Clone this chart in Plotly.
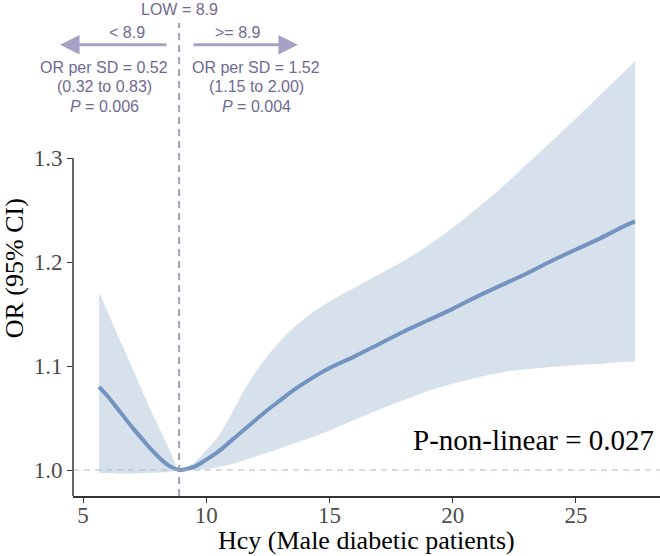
import plotly.graph_objects as go

# data
hcy = [5.65, 6.0, 6.5, 7.0, 7.5, 8.0, 8.5, 8.9, 9.0, 9.5, 10.0, 10.5, 11.0, 11.5,
       12.0, 12.5, 13.0, 13.5, 14.0, 15.0, 16.0, 17.0, 18.0, 19.0, 20.0, 21.0,
       22.0, 23.0, 24.0, 25.0, 26.0, 27.0, 27.4]
or_fit = [1.080, 1.071, 1.056, 1.041, 1.027, 1.014, 1.004, 1.000, 1.000, 1.003,
          1.010, 1.018, 1.028, 1.038, 1.048, 1.058, 1.067, 1.076, 1.084, 1.098,
          1.109, 1.121, 1.133, 1.144, 1.155, 1.167, 1.178, 1.189, 1.201, 1.212,
          1.223, 1.235, 1.239]
ci_low = [0.997, 0.9968, 0.9965, 0.9966, 0.997, 0.9973, 0.998, 1.000, 1.000, 1.000,
          1.001, 1.003, 1.0055, 1.009, 1.013, 1.0165, 1.021, 1.025, 1.029, 1.038,
          1.048, 1.058, 1.067, 1.076, 1.083, 1.089, 1.094, 1.097, 1.099, 1.101,
          1.102, 1.104, 1.104]
ci_high = [1.171, 1.152, 1.125, 1.098, 1.071, 1.045, 1.020, 1.000, 1.001, 1.007,
           1.019, 1.033, 1.053, 1.075, 1.094, 1.110, 1.124, 1.136, 1.146, 1.162,
           1.175, 1.188, 1.201, 1.216, 1.233, 1.252, 1.272, 1.294, 1.316, 1.338,
           1.361, 1.384, 1.393]

cutoff = 8.9
x_ticks = [5, 10, 15, 20, 25]
y_ticks = [1.0, 1.1, 1.2, 1.3]

serif = "Liberation Serif"
sans = "Liberation Sans"
lab_col = "#6f6a93"
arrow_col = "#a7a1c6"
band_col = "#d6e1eb"

fig = go.Figure()

# confidence band
fig.add_trace(go.Scatter(x=hcy, y=ci_low, mode="lines",
                         line=dict(width=0, color=band_col, shape="spline"),
                         hoverinfo="skip", showlegend=False))
fig.add_trace(go.Scatter(x=hcy, y=ci_high, mode="lines", fill="tonexty",
                         fillcolor=band_col,
                         line=dict(width=0, color=band_col, shape="spline"),
                         hoverinfo="skip", showlegend=False))
# fitted curve
fig.add_trace(go.Scatter(x=hcy, y=or_fit, mode="lines",
                         line=dict(width=4, color="#7393c0", shape="spline"),
                         showlegend=False))

# reference lines
fig.add_shape(type="line", xref="paper", x0=0, x1=1, y0=1.0, y1=1.0,
              line=dict(color="#a9b9cc", width=1.2, dash="6px,5px"))
fig.add_shape(type="line", x0=cutoff, x1=cutoff, y0=0.975, y1=1.43,
              line=dict(color="#9c98b6", width=1.8, dash="7px,5px"))
# y axis line only up to 1.3
fig.add_shape(type="line", xref="paper", x0=0, x1=0, y0=0.975, y1=1.3,
              line=dict(color="#333333", width=1.5))

# arrows
fig.add_annotation(x=4.07, y=1.409, ax=8.45, ay=1.409, axref="x", ayref="y",
                   text="", showarrow=True, arrowhead=2, arrowsize=1.3,
                   arrowwidth=3, arrowcolor=arrow_col)
fig.add_annotation(x=13.72, y=1.409, ax=9.42, ay=1.409, axref="x", ayref="y",
                   text="", showarrow=True, arrowhead=2, arrowsize=1.3,
                   arrowwidth=3, arrowcolor=arrow_col)

labels = [
    ("LOW = 8.9", cutoff, 1.443),
    ("&lt; 8.9", 6.78, 1.421),
    ("&gt;= 8.9", 11.25, 1.421),
    ("OR per SD = 0.52", 5.87, 1.3875),
    ("(0.32 to 0.83)", 5.87, 1.369),
    ("<i>P</i> = 0.006", 5.87, 1.350),
    ("OR per SD = 1.52", 12.02, 1.3875),
    ("(1.15 to 2.00)", 12.02, 1.369),
    ("<i>P</i> = 0.004", 12.02, 1.350),
]
for txt, lx, ly in labels:
    fig.add_annotation(x=lx, y=ly, text=txt, showarrow=False,
                       font=dict(family=sans, size=16, color=lab_col))

fig.add_annotation(xref="paper", x=1, xanchor="right", xshift=-4, y=1.029,
                   text="P-non-linear = 0.027", showarrow=False,
                   font=dict(family=serif, size=29, color="black"))

# axis titles
fig.add_annotation(xref="paper", x=0.5, yref="paper", y=0, yanchor="middle",
                   yshift=-44, text="Hcy (Male diabetic patients)", showarrow=False,
                   font=dict(family=serif, size=26, color="black"))
fig.add_annotation(xref="paper", x=0, xanchor="center", xshift=-59, y=1.194,
                   textangle=-90, text="OR (95% CI)", showarrow=False,
                   font=dict(family=serif, size=26, color="black"))

fig.update_xaxes(range=[4.594, 28.41], tickvals=x_ticks, showgrid=False,
                 zeroline=False, showline=True, linecolor="#333333", linewidth=1.5,
                 ticks="outside", ticklen=5, tickcolor="#333333", tickwidth=1.2,
                 ticklabelstandoff=-7,
                 tickfont=dict(family=serif, size=23, color="#4d4d4d"))
fig.update_yaxes(range=[0.975, 1.452], tickvals=y_ticks, tickformat=".1f",
                 showgrid=False, zeroline=False, showline=False,
                 ticks="outside", ticklen=5, tickcolor="#333333", tickwidth=1.2,
                 tickfont=dict(family=serif, size=23, color="#4d4d4d"))

fig.update_layout(width=660, height=556, plot_bgcolor="white", paper_bgcolor="white",
                  margin=dict(l=73, r=0, t=0, b=60))

# page has a default 8px body margin; drop it so the figure fills the window
fig.write_html("out.html", config={"displayModeBar": False},
               post_script="document.body.style.margin='0px';")
